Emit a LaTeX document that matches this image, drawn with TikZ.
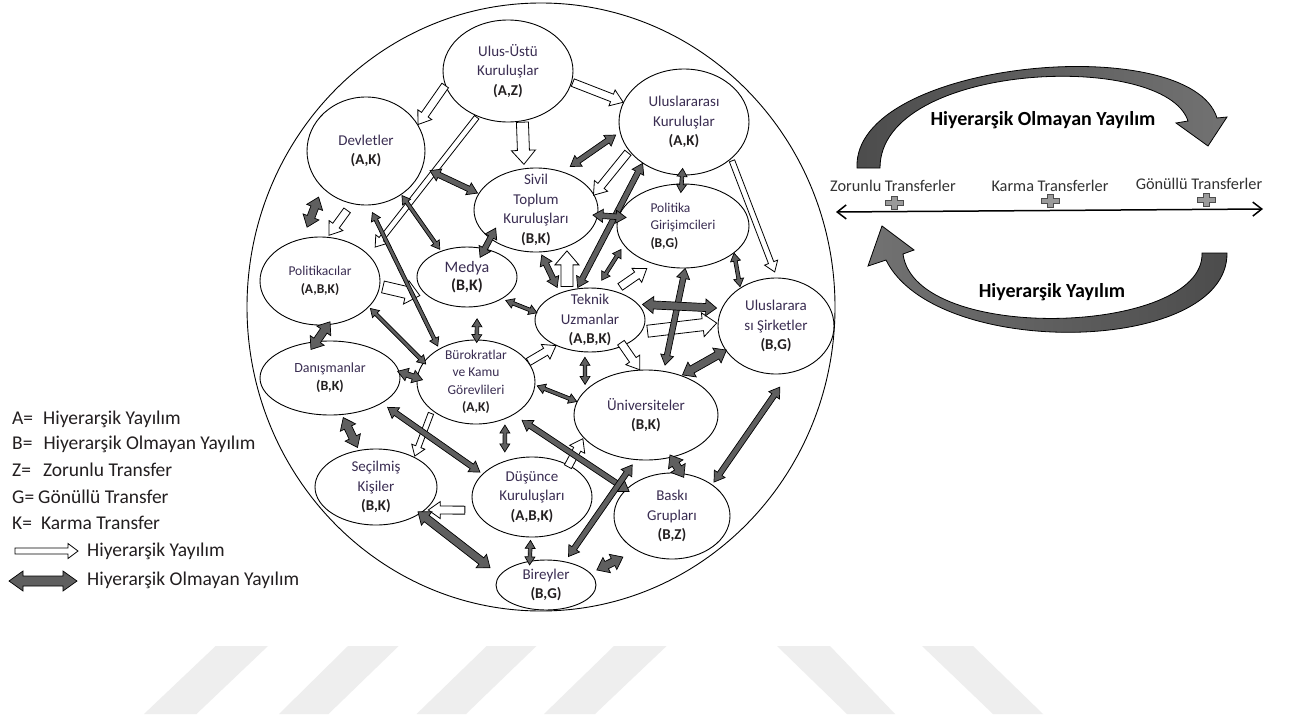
\documentclass[tikz,border=0pt]{standalone}
\usepackage{fontspec}
\setmainfont{Carlito}
\usetikzlibrary{calc,shapes.geometric,arrows.meta}

\definecolor{namecol}{HTML}{3A2D52}
\definecolor{labcol}{HTML}{231F20}
\definecolor{arrfill}{HTML}{5F5F5F}
\definecolor{wmark}{HTML}{EEEEEE}
\definecolor{curvA}{HTML}{4C4C4C}
\definecolor{curvB}{HTML}{727272}
\definecolor{plusfill}{HTML}{9A9A9A}

% block-arrow geometry (half shaft width, half head width, head length)
\newcommand\ArrS{3pt}
\newcommand\ArrH{7pt}
\newcommand\ArrL{10pt}

\tikzset{
  shaft/.code={\def\ArrS{#1}},
  head/.code={\def\ArrH{#1}},
  hlen/.code={\def\ArrL{#1}},
  darrow/.style={draw=black, line width=0.7pt, fill=arrfill, line join=miter},
  DK/.style={darrow, shaft=4pt, head=8.5pt, hlen=11pt},
  DM/.style={darrow, shaft=2.8pt, head=6.5pt, hlen=10pt},
  DT/.style={darrow, shaft=1.8pt, head=5pt, hlen=8pt},
  warrow/.style={draw=black, line width=0.8pt, fill=white, line join=miter},
  WK/.style={warrow, shaft=6pt, head=12pt, hlen=14pt},
  WM/.style={warrow, shaft=4pt, head=8.5pt, hlen=12pt},
  WT/.style={warrow, shaft=2.8pt, head=7pt, hlen=10pt},
  ent/.style={ellipse, draw=black, line width=0.9pt, fill=white, inner sep=-10pt,
    align=center, text=namec, font=\fontsize{15}{19.5}\selectfont},
  entsm/.style={ent, font=\fontsize{13.5}{17.5}\selectfont},
  legend/.style={inner sep=0pt, text=labcol, font=\fontsize{19.5}{23}\selectfont},
  axistext/.style={inner sep=0pt, text=black!80, font=\fontsize{16.3}{19}\selectfont},
  ttl/.style={inner sep=0pt, text=black, font=\fontsize{20}{24}\selectfont\bfseries},
  curved/.style={draw=black, line width=0.8pt, line join=miter},
  plusst/.style={draw=black!70, line width=0.8pt, fill=plusfill},
  wm/.style={fill=wmark},
}
\colorlet{namec}{namecol}
\newcommand\cls[1]{\textcolor{labcol}{\bfseries #1}}

% single hollow arrow: [style]{from}{to}{extra at start}{extra at end}
\newcommand\hollowarrow[5][]{%
  \draw[WM,#1] let \p3=($(#2)!#4pt!180:(#3)$), \p4=($(#3)!#5pt!180:(#2)$),
      \p1=($(\p4)!\ArrL!(\p3)$) in
    ($(\p3)!\ArrS!90:(\p4)$) -- ($(\p1)!\ArrS!90:(\p4)$) -- ($(\p1)!\ArrH!90:(\p4)$)
    -- (\p4) -- ($(\p1)!\ArrH!-90:(\p4)$) -- ($(\p1)!\ArrS!-90:(\p4)$)
    -- ($(\p3)!\ArrS!-90:(\p4)$) -- cycle;}

% double-headed filled arrow: [style]{from}{to}{extra at start}{extra at end}
\newcommand\twoarrow[5][]{%
  \draw[DM,#1] let \p3=($(#2)!#4pt!180:(#3)$), \p4=($(#3)!#5pt!180:(#2)$),
      \p1=($(\p3)!\ArrL!(\p4)$), \p2=($(\p4)!\ArrL!(\p3)$) in
    (\p3) -- ($(\p1)!\ArrH!90:(\p4)$) -- ($(\p1)!\ArrS!90:(\p4)$)
    -- ($(\p2)!\ArrS!90:(\p4)$) -- ($(\p2)!\ArrH!90:(\p4)$) -- (\p4)
    -- ($(\p2)!\ArrH!-90:(\p4)$) -- ($(\p2)!\ArrS!-90:(\p4)$)
    -- ($(\p1)!\ArrS!-90:(\p4)$) -- ($(\p1)!\ArrH!-90:(\p4)$) -- cycle;}

\newcommand\plussign[1]{%
  \draw[plusst, shift={(#1)}] (-9,-2.8) -- (-3,-2.8) -- (-3,-6.5) -- (3,-6.5) -- (3,-2.8)
    -- (9,-2.8) -- (9,2.8) -- (3,2.8) -- (3,6.5) -- (-3,6.5) -- (-3,2.8) -- (-9,2.8) -- cycle;}

\begin{document}
\begin{tikzpicture}[x=1pt,y=-1pt]
\fill[white] (0,0) rectangle (1291,720);
\useasboundingbox (0,0) rectangle (1291,720);

% faint background stripes
\fill[wm] (144,714) -- (196.5,714) -- (268,646) -- (215.7,646) -- cycle;
\fill[wm] (279,714) -- (328.5,714) -- (398.7,646) -- (348,646) -- cycle;
\fill[wm] (416.6,714) -- (466,714) -- (536.5,646) -- (486.7,646) -- cycle;
\fill[wm] (544,714) -- (595,714) -- (666.6,646) -- (614,646) -- cycle;
\fill[wm] (777,646) -- (830,646) -- (895,714) -- (847,714) -- cycle;
\fill[wm] (922,646) -- (973,646) -- (1043,714) -- (993,714) -- cycle;

% enclosing circle
\draw[line width=0.9pt] (541,307) ellipse [x radius=294, y radius=304];

% actors
\node[ent, minimum width=130pt, minimum height=102pt] (ulus) at (508,71) {Ulus-Üstü\\Kuruluşlar\\\cls{(A,Z)}};
\node[ent, minimum width=118pt, minimum height=108pt] (dev) at (366,151) {Devletler\\\cls{(A,K)}};
\node[ent, minimum width=130pt, minimum height=106pt] (uk) at (684,122) {Uluslararası\\Kuruluşlar\\\cls{(A,K)}};
\node[ent, minimum width=124pt, minimum height=84pt] (stk) at (536,210) {Sivil\\Toplum\\Kuruluşları\\\cls{(B,K)}};
\node[entsm, align=left, minimum width=132pt, minimum height=84pt] (pg) at (683,226) {Politika\\Girişimcileri\\\cls{(B,G)}};
\node[entsm, minimum width=120pt, minimum height=88pt] (pol) at (320,281) {Politikacılar\\\cls{(A,B,K)}};
\node[ent, font=\fontsize{16}{21}\selectfont, minimum width=100pt, minimum height=60pt] (med) at (467,277) {\raisebox{-3pt}{Medya}\\\cls{(B,K)}};
\node[ent, minimum width=110pt, minimum height=64pt] (tek) at (590,320) {Teknik\\Uzmanlar\\\cls{(A,B,K)}};
\node[ent, minimum width=116pt, minimum height=96pt] (us) at (776,326) {Uluslarara\\sı Şirketler\\\cls{(B,G)}};
\node[ent, font=\fontsize{14}{18}\selectfont, minimum width=140pt, minimum height=74pt] (dan) at (330,378) {Danışmanlar\\\cls{(B,K)}};
\node[entsm, minimum width=118pt, minimum height=84pt] (bur) at (476,382) {Bürokratlar\\ve Kamu\\Görevlileri\\\cls{(A,K)}};
\node[ent, minimum width=144pt, minimum height=90pt] (uni) at (646,415) {Üniversiteler\\\cls{(B,K)}};
\node[ent, minimum width=122pt, minimum height=76pt] (sec) at (376,487) {Seçilmiş\\Kişiler\\\cls{(B,K)}};
\node[ent, minimum width=120pt, minimum height=80pt] (dus) at (532,497) {Düşünce\\Kuruluşları\\\cls{(A,B,K)}};
\node[ent, minimum width=116pt, minimum height=86pt] (bas) at (672,516) {Baskı\\Grupları\\\cls{(B,Z)}};
\node[ent, font=\fontsize{15}{19}\selectfont, minimum width=100pt, minimum height=50pt] (bir) at (546,585) {Bireyler\\\cls{(B,G)}};

% hierarchical (hollow) flows
\hollowarrow[WM]{ulus.-167}{dev.27}{0}{0}
\hollowarrow[WT]{ulus.-124}{pol.28}{-1}{-10}
\hollowarrow[WK]{ulus.-74}{stk.106}{-1}{-4}
\hollowarrow[WM]{ulus.-10}{uk.162}{-1}{0}
\hollowarrow[WM]{uk.-152}{stk.15}{-2}{1}
\hollowarrow[WT]{uk.-38}{us.89}{-2}{-6}
\hollowarrow[WK]{tek.128}{stk.-50}{-4}{-4}
\hollowarrow[WM]{tek.50}{pg.-128}{-7}{-8}
\hollowarrow[WM]{dev.-105}{pol.80}{-8}{-2}
\hollowarrow[WK]{pol.-5}{med.-150}{-3}{-11}
\hollowarrow[WT]{bur.-147}{sec.38}{-3}{-1}
\hollowarrow[WM]{dus.-167}{sec.-25}{-10}{-3}
\hollowarrow[WM]{bur.21}{tek.-143}{0}{0}
\hollowarrow[WM]{tek.-38}{uni.98}{4}{0}
\hollowarrow[WM]{dus.41}{uni.-160}{2}{-1}
\hollowarrow[WK]{tek.-13}{us.177}{-6}{-1}

% non-hierarchical (two-way) flows
\twoarrow[DM]{dev.-16}{stk.164}{-8}{-1}
\twoarrow[DM]{uk.-171}{stk.55}{-5}{-9}
\twoarrow[DM]{uk.-135}{tek.112}{0}{-1}
\twoarrow[DT]{uk.-92}{pg.92}{7}{9}
\twoarrow[DT]{dev.-51}{med.135}{-1}{-2}
\twoarrow[DM]{med.58}{stk.-148}{10}{12}
\twoarrow[DM]{stk.-84}{tek.138}{-3}{-6}
\twoarrow[DM]{stk.-5}{pg.172}{5}{8}
\twoarrow[DT]{tek.78}{pg.-162}{-9}{-5}
\twoarrow[DT]{med.-32}{tek.172}{-4}{1}
\twoarrow[DT]{med.-71}{bur.89}{-12}{3}
\twoarrow[DT]{dev.-87}{bur.138}{-8}{-3}
\twoarrow[DK]{dev.-140}{pol.112}{-10}{-12}
\twoarrow[DT]{pol.-28}{bur.159}{-2}{3}
\twoarrow[DK]{pol.-80}{dan.110}{4}{10}
\twoarrow[DM]{dan.5}{bur.176}{2}{6}
\twoarrow[DK]{dan.-72}{sec.115}{-3}{-3}
\twoarrow[DM]{dan.-26}{dus.155}{-7}{-3}
\twoarrow[DT]{bur.-52}{dus.127}{-6}{-9}
\twoarrow[DK]{sec.-31}{bir.168}{3}{-12}
\twoarrow[DT]{dus.-92}{bir.124}{-3}{4}
\twoarrow[DT]{tek.-99}{uni.158}{-5}{-6}
\twoarrow[DT]{bur.-3}{uni.169}{-2}{0}
\twoarrow[DM]{bur.-41}{bas.150}{-10}{4}
\twoarrow[DM]{bir.51}{uni.-103}{-6}{-6}
\twoarrow[DK]{uni.-59}{bas.78}{3}{5}
\twoarrow[DM]{bas.38}{us.-74}{-3}{-17}
\twoarrow[DK]{bir.15}{bas.-136}{-7}{-15}
\twoarrow[DK]{uni.48}{us.-154}{-1}{1}
\twoarrow[DM]{pg.-87}{uni.68}{0}{-6}
\twoarrow[DT]{pg.-28}{us.133}{0}{-1}
\twoarrow[DK]{tek.18}{us.162}{-4}{-5}

% legend
\node[legend, anchor=base west] (lgA) at (12,424.5) {A=\hspace{10pt}Hiyerarşik Yayılım};
\node[legend, anchor=base west] (lgB) at (12,449.5) {B=\hspace{11pt}Hiyerarşik Olmayan Yayılım};
\node[legend, anchor=base west] (lgZ) at (12,476) {Z=\hspace{12pt}Zorunlu Transfer};
\node[legend, anchor=base west] (lgG) at (12,503) {G=\hspace{4pt}Gönüllü Transfer};
\node[legend, anchor=base west] (lgK) at (12,529.5) {K=\hspace{9pt}Karma Transfer};
\node[legend, anchor=base west] (lgW) at (87,556.5) {Hiyerarşik Yayılım};
\node[legend, anchor=base west] (lgD) at (87,585.5) {Hiyerarşik Olmayan Yayılım};
\coordinate (lw1) at (15,551);
\coordinate (lw2) at (78,551);
\coordinate (ld1) at (9,581);
\coordinate (ld2) at (77,581);
\hollowarrow[WM, shaft=3pt, head=7.5pt, hlen=10pt]{lw1}{lw2}{0}{0}
\twoarrow[DK, shaft=5pt, head=10pt, hlen=14pt]{ld1}{ld2}{0}{0}

% transfer continuum
\draw[curved, left color=curvA, right color=curvB]
  (857,168) .. controls (852,60) and (1190,30) .. (1217,118) -- (1227,117) -- (1208,146)
  -- (1176,123) -- (1188,121) .. controls (1165,50) and (880,62) .. (880,168) -- cycle;
\draw[curved, left color=curvB, right color=curvA]
  (1227,253) .. controls (1228,355) and (935,360) .. (886,260) -- (868,266) -- (882,226)
  -- (914,250) -- (903,254) .. controls (915,345) and (1205,335) .. (1202,253) -- cycle;
\node[ttl, anchor=base] (tNH) at (1043,125) {Hiyerarşik Olmayan Yayılım};
\node[ttl, anchor=base] (tH) at (1052,297) {Hiyerarşik Yayılım};

\coordinate (axL) at (836,212);
\coordinate (axR) at (1263,209);
\draw[line width=1.5pt, {Straight Barb[length=9pt,width=14pt]}-{Straight Barb[length=9pt,width=14pt]}] (axL) -- (axR);
\node[axistext, anchor=base] (sZ) at (893,191) {Zorunlu Transferler};
\node[axistext, anchor=base] (sK) at (1050,191) {Karma Transferler};
\node[axistext, anchor=base] (sG) at (1199,189) {Gönüllü Transferler};
\coordinate (pZ) at (894,203);
\coordinate (pK) at (1050,201);
\coordinate (pG) at (1206,200);
\plussign{pZ}
\plussign{pK}
\plussign{pG}
\end{tikzpicture}
\end{document}
